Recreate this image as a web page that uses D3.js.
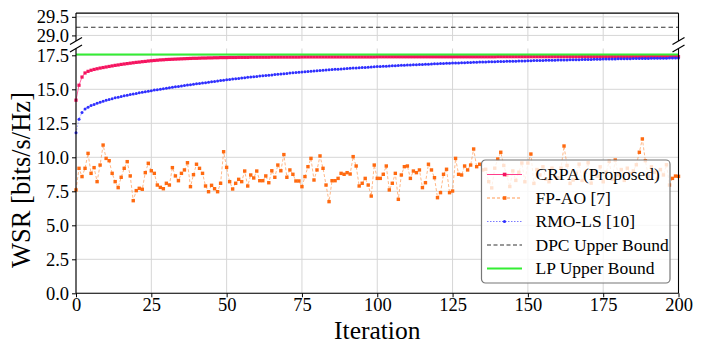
<!DOCTYPE html>
<meta charset="utf-8">
<head>
  <title>WSR vs iteration (broken axis)</title>
</head>
<style>
body { margin: 0; background: #fff; }
text { font-family: "Liberation Serif", "Times New Roman", serif; fill: #000; }
.grid line { stroke: #d6d6d6; stroke-width: 1; }
.spine { stroke: #000; stroke-width: 1.1; }
.tick line { stroke: #000; }
</style>
<body>
<svg width="703" height="345"></svg>
<script src="https://cdn.jsdelivr.net/npm/d3@7/dist/d3.min.js"></script>
<script>

var iterations = d3.range(0, 201);

var crpa = [
  14.20, 15.30, 15.90, 16.20, 16.32, 16.40, 16.46, 16.51, 16.56, 16.60,
  16.64, 16.68, 16.72, 16.76, 16.79, 16.83, 16.86, 16.89, 16.92, 16.95,
  16.98, 17.00, 17.03, 17.05, 17.08, 17.10, 17.12, 17.14, 17.16, 17.17,
  17.19, 17.20, 17.21, 17.22, 17.23, 17.24, 17.25, 17.26, 17.27, 17.28,
  17.28, 17.29, 17.30, 17.30, 17.31, 17.31, 17.32, 17.32, 17.33, 17.33,
  17.33, 17.34, 17.34, 17.34, 17.35, 17.35, 17.35, 17.35, 17.36, 17.36,
  17.36, 17.36, 17.36, 17.36, 17.36, 17.37, 17.37, 17.37, 17.37, 17.37,
  17.37, 17.37, 17.37, 17.37, 17.37, 17.38, 17.38, 17.38, 17.38, 17.38,
  17.38, 17.38, 17.38, 17.38, 17.38, 17.38, 17.38, 17.38, 17.38, 17.38,
  17.38, 17.38, 17.38, 17.38, 17.38, 17.38, 17.38, 17.38, 17.38, 17.38,
  17.39, 17.39, 17.39, 17.39, 17.39, 17.39, 17.39, 17.39, 17.39, 17.39,
  17.39, 17.39, 17.39, 17.39, 17.39, 17.39, 17.39, 17.39, 17.39, 17.39,
  17.39, 17.39, 17.39, 17.39, 17.39, 17.39, 17.39, 17.39, 17.39, 17.39,
  17.39, 17.39, 17.39, 17.39, 17.39, 17.39, 17.39, 17.39, 17.39, 17.39,
  17.40, 17.40, 17.40, 17.40, 17.40, 17.40, 17.40, 17.40, 17.40, 17.40,
  17.40, 17.40, 17.40, 17.40, 17.40, 17.40, 17.40, 17.40, 17.40, 17.40,
  17.40, 17.40, 17.40, 17.40, 17.40, 17.40, 17.40, 17.40, 17.40, 17.40,
  17.40, 17.40, 17.40, 17.40, 17.40, 17.40, 17.40, 17.40, 17.40, 17.40,
  17.40, 17.40, 17.40, 17.40, 17.40, 17.40, 17.40, 17.40, 17.40, 17.40,
  17.40, 17.40, 17.40, 17.40, 17.40, 17.40, 17.40, 17.40, 17.40, 17.40,
  17.40
];

var fpao = [
  7.60, 9.19, 8.58, 9.19, 10.29, 8.82, 9.24, 8.21, 9.43, 10.90,
  9.92, 9.75, 8.82, 8.21, 7.77, 8.53, 9.19, 9.68, 8.63, 6.81,
  7.55, 7.72, 7.65, 8.87, 9.56, 9.01, 8.82, 7.96, 7.79, 7.69,
  8.09, 7.96, 9.24, 8.63, 8.28, 8.82, 9.07, 9.60, 7.84, 8.72,
  9.49, 9.19, 8.82, 7.89, 7.47, 7.94, 7.69, 7.47, 8.09, 10.41,
  9.26, 8.21, 7.67, 8.09, 8.38, 8.21, 8.99, 7.89, 8.70, 8.48,
  8.99, 8.28, 8.28, 8.63, 8.13, 9.01, 8.53, 9.43, 9.01, 10.20,
  8.53, 9.07, 8.75, 8.26, 8.26, 7.84, 8.58, 9.31, 9.92, 8.33,
  9.07, 10.10, 9.19, 7.96, 6.74, 8.28, 8.28, 8.45, 8.82, 8.75,
  8.87, 8.77, 10.05, 9.36, 7.89, 8.09, 8.45, 7.96, 7.15, 9.43,
  8.45, 8.45, 8.75, 9.36, 7.60, 8.09, 8.82, 6.91, 8.70, 9.31,
  9.36, 8.45, 8.99, 8.87, 9.07, 7.77, 8.13, 9.49, 9.07, 8.50,
  7.03, 7.40, 8.75, 9.12, 7.40, 7.52, 9.92, 8.75, 8.70, 9.36,
  9.07, 9.43, 10.61, 9.31, 9.49, 9.07, 9.12, 8.21, 7.75, 9.20,
  9.87, 10.37, 9.40, 8.68, 7.85, 9.00, 8.30, 8.90, 9.58, 8.20,
  9.58, 10.24, 8.08, 9.10, 8.70, 9.30, 8.40, 8.20, 9.20, 8.60,
  8.50, 9.20, 10.83, 9.40, 8.08, 8.33, 8.82, 9.50, 8.30, 8.90,
  9.60, 8.10, 9.00, 8.60, 9.30, 8.20, 8.90, 9.70, 8.40, 9.80,
  8.70, 9.10, 8.30, 9.20, 8.80, 9.00, 9.45, 10.37, 11.35, 9.75,
  8.60, 9.30, 8.90, 8.40, 9.10, 8.70, 9.45, 7.96, 8.45, 8.62,
  8.60
];

var rmols = [
  11.80, 12.80, 13.30, 13.55, 13.68, 13.80, 13.89, 13.97, 14.05, 14.12,
  14.19, 14.25, 14.31, 14.37, 14.42, 14.47, 14.52, 14.57, 14.61, 14.65,
  14.69, 14.74, 14.78, 14.82, 14.86, 14.90, 14.94, 14.97, 15.01, 15.04,
  15.08, 15.11, 15.15, 15.18, 15.21, 15.25, 15.28, 15.31, 15.34, 15.37,
  15.40, 15.43, 15.46, 15.49, 15.52, 15.55, 15.58, 15.61, 15.64, 15.67,
  15.70, 15.72, 15.75, 15.78, 15.80, 15.83, 15.85, 15.88, 15.90, 15.93,
  15.95, 15.97, 16.00, 16.02, 16.04, 16.06, 16.09, 16.11, 16.13, 16.15,
  16.17, 16.19, 16.21, 16.23, 16.25, 16.27, 16.29, 16.31, 16.33, 16.35,
  16.36, 16.38, 16.40, 16.42, 16.43, 16.45, 16.47, 16.48, 16.50, 16.51,
  16.53, 16.54, 16.56, 16.57, 16.59, 16.60, 16.61, 16.63, 16.64, 16.65,
  16.67, 16.68, 16.69, 16.70, 16.72, 16.73, 16.74, 16.75, 16.76, 16.77,
  16.78, 16.79, 16.80, 16.81, 16.82, 16.83, 16.84, 16.85, 16.86, 16.87,
  16.88, 16.89, 16.90, 16.91, 16.92, 16.93, 16.93, 16.94, 16.95, 16.96,
  16.97, 16.97, 16.98, 16.99, 17.00, 17.00, 17.01, 17.02, 17.02, 17.03,
  17.04, 17.04, 17.05, 17.06, 17.06, 17.07, 17.07, 17.08, 17.09, 17.09,
  17.10, 17.10, 17.11, 17.11, 17.12, 17.12, 17.13, 17.13, 17.14, 17.14,
  17.15, 17.15, 17.16, 17.16, 17.17, 17.17, 17.18, 17.18, 17.19, 17.19,
  17.20, 17.20, 17.21, 17.21, 17.21, 17.22, 17.22, 17.23, 17.23, 17.23,
  17.24, 17.24, 17.25, 17.25, 17.25, 17.26, 17.26, 17.26, 17.27, 17.27,
  17.27, 17.28, 17.28, 17.28, 17.29, 17.29, 17.29, 17.30, 17.30, 17.30,
  17.31
];

var dpcBound = 29.22;
var lpBound = 17.55;

var xTicks = [0, 25, 50, 75, 100, 125, 150, 175, 200];
var yTicksLow = [0, 2.5, 5, 7.5, 10, 12.5, 15, 17.5];
var yTicksHigh = [29.0, 29.5];

var legendLabels = ['CRPA (Proposed)', 'FP-AO [7]', 'RMO-LS [10]', 'DPC Upper Bound', 'LP Upper Bound'];

var svg = d3.select('svg');

var left = 76, right = 678.5;
var x = d3.scaleLinear().domain([0, 200]).range([left, right]);
var yHigh = d3.scaleLinear().domain([28.85, 29.6]).range([41, 13.1]);
var yLow = d3.scaleLinear().domain([0, 18]).range([293.3, 48.5]);

// grid
var grid = svg.append('g').attr('class', 'grid');
[[yHigh, yTicksHigh], [yLow, yTicksLow]].forEach(function(p) {
  var y = p[0], r = y.range();
  grid.selectAll(null).data(xTicks).enter().append('line')
    .attr('x1', function(d) { return x(d); }).attr('x2', function(d) { return x(d); })
    .attr('y1', r[0]).attr('y2', r[1]);
  grid.selectAll(null).data(p[1]).enter().append('line')
    .attr('x1', left).attr('x2', right)
    .attr('y1', function(d) { return y(d); }).attr('y2', function(d) { return y(d); });
});

// clip for lower panel
svg.append('clipPath').attr('id', 'clipLow').append('rect')
  .attr('x', left - 4).attr('y', yLow.range()[1] - 4)
  .attr('width', right - left + 8).attr('height', yLow.range()[0] - yLow.range()[1] + 8);

var plot = svg.append('g').attr('clip-path', 'url(#clipLow)');

function series(values, lineColor, lineWidth, dash, lineOpacity) {
  var pts = iterations.map(function(d, i) { return [d, values[i]]; });
  plot.append('path')
    .attr('d', d3.line().x(function(d) { return x(d[0]); }).y(function(d) { return yLow(d[1]); })(pts))
    .attr('fill', 'none')
    .attr('stroke', lineColor)
    .attr('stroke-width', lineWidth)
    .attr('stroke-opacity', lineOpacity)
    .attr('stroke-dasharray', dash);
  return pts;
}

var crpaPts = series(crpa, '#ff3d8b', 1, null, 0.8);
plot.selectAll(null).data(crpaPts).enter().append('rect')
  .attr('x', function(d) { return x(d[0]) - 1.6; })
  .attr('y', function(d) { return yLow(d[1]) - 1.6; })
  .attr('width', 3.2).attr('height', 3.2)
  .attr('fill', '#f5135f');

var fpPts = series(fpao, '#ff9a55', 1, '3,2', 0.7);
plot.selectAll(null).data(fpPts).enter().append('rect')
  .attr('x', function(d) { return x(d[0]) - 1.7; })
  .attr('y', function(d) { return yLow(d[1]) - 1.7; })
  .attr('width', 3.4).attr('height', 3.4)
  .attr('fill', '#ff6a10');

var rmoPts = series(rmols, '#7a7aff', 1, '1.5,1.5', 0.7);
plot.selectAll(null).data(rmoPts).enter().append('circle')
  .attr('cx', function(d) { return x(d[0]); })
  .attr('cy', function(d) { return yLow(d[1]); })
  .attr('r', 1.5)
  .attr('fill', '#3030ff');

// bounds
svg.append('line')
  .attr('x1', left).attr('x2', right)
  .attr('y1', yHigh(dpcBound)).attr('y2', yHigh(dpcBound))
  .attr('stroke', '#333').attr('stroke-width', 1.2).attr('stroke-dasharray', '4.5,3');
svg.append('line')
  .attr('x1', left).attr('x2', right)
  .attr('y1', yLow(lpBound)).attr('y2', yLow(lpBound))
  .attr('stroke', '#33ee33').attr('stroke-width', 2);

// spines
var hr = yHigh.range(), lr = yLow.range();
var spines = [
  [left, hr[1], right, hr[1]],
  [left, hr[1], left, hr[0]],
  [right, hr[1], right, hr[0]],
  [left, lr[1], left, lr[0]],
  [right, lr[1], right, lr[0]],
  [left, lr[0], right, lr[0]]
];
svg.selectAll(null).data(spines).enter().append('line')
  .attr('class', 'spine')
  .attr('x1', function(d) { return d[0]; }).attr('y1', function(d) { return d[1]; })
  .attr('x2', function(d) { return d[2]; }).attr('y2', function(d) { return d[3]; });

// break marks
var marks = [[left, hr[0]], [left, lr[1]], [right, hr[0]], [right, lr[1]]];
svg.selectAll(null).data(marks).enter().append('line')
  .attr('x1', function(d) { return d[0] - 6; }).attr('y1', function(d) { return d[1] + 3.5; })
  .attr('x2', function(d) { return d[0] + 6; }).attr('y2', function(d) { return d[1] - 3.5; })
  .attr('stroke', '#000').attr('stroke-width', 1.2);

// axes
function styleAxis(g) {
  g.attr('font-family', null).attr('font-size', null);
  g.select('.domain').remove();
  g.selectAll('text').style('font-size', '18.5px');
}
svg.append('g').attr('transform', 'translate(' + left + ',0)')
  .call(d3.axisLeft(yHigh).tickValues(yTicksHigh).tickFormat(d3.format('.1f')).tickSize(4).tickPadding(3))
  .call(styleAxis);
svg.append('g').attr('transform', 'translate(' + left + ',0)')
  .call(d3.axisLeft(yLow).tickValues(yTicksLow).tickFormat(d3.format('.1f')).tickSize(4).tickPadding(3))
  .call(styleAxis);
svg.append('g').attr('transform', 'translate(0,' + lr[0] + ')')
  .call(d3.axisBottom(x).tickValues(xTicks).tickSize(4).tickPadding(1))
  .call(styleAxis);

svg.append('text')
  .attr('x', (left + right) / 2).attr('y', 339)
  .attr('text-anchor', 'middle')
  .style('font-size', '25.5px')
  .text('Iteration');
svg.append('text')
  .attr('transform', 'translate(30,' + 180 + ') rotate(-90)')
  .attr('text-anchor', 'middle')
  .style('font-size', '26.5px')
  .text('WSR [bits/s/Hz]');

// legend
var lg = svg.append('g').attr('transform', 'translate(481.5,160)');
lg.append('rect')
  .attr('width', 188.5).attr('height', 123).attr('rx', 4)
  .attr('fill', '#fff').attr('fill-opacity', 0.8)
  .attr('stroke', '#777').attr('stroke-width', 1.2);

var legendStyles = [
  { color: '#ff3d8b', width: 1.2, dash: null, marker: 'square', mcolor: '#f5135f' },
  { color: '#ff9a55', width: 1, dash: '3,2', marker: 'square', mcolor: '#ff6a10' },
  { color: '#7a7aff', width: 1, dash: '1.5,1.5', marker: 'circle', mcolor: '#3030ff' },
  { color: '#333', width: 1.2, dash: '4,2.5', marker: null },
  { color: '#33ee33', width: 2, dash: null, marker: null }
];

var rows = lg.selectAll(null).data(legendLabels).enter().append('g')
  .attr('transform', function(d, i) { return 'translate(0,' + (14.5 + i * 23.5) + ')'; });
rows.append('line')
  .attr('x1', 5.5).attr('x2', 40.5).attr('y1', 0).attr('y2', 0)
  .attr('stroke', function(d, i) { return legendStyles[i].color; })
  .attr('stroke-width', function(d, i) { return legendStyles[i].width; })
  .attr('stroke-dasharray', function(d, i) { return legendStyles[i].dash; });
rows.filter(function(d, i) { return legendStyles[i].marker === 'square'; }).append('rect')
  .attr('x', 21.3).attr('y', -1.8).attr('width', 3.6).attr('height', 3.6)
  .attr('fill', function(d) { return legendStyles[legendLabels.indexOf(d)].mcolor; });
rows.filter(function(d, i) { return legendStyles[i].marker === 'circle'; }).append('circle')
  .attr('cx', 23).attr('cy', 0).attr('r', 1.6)
  .attr('fill', '#3030ff');
rows.append('text')
  .attr('x', 54).attr('y', 5.5)
  .style('font-size', '17.5px')
  .text(function(d) { return d; });

</script>
</body>
</html>
